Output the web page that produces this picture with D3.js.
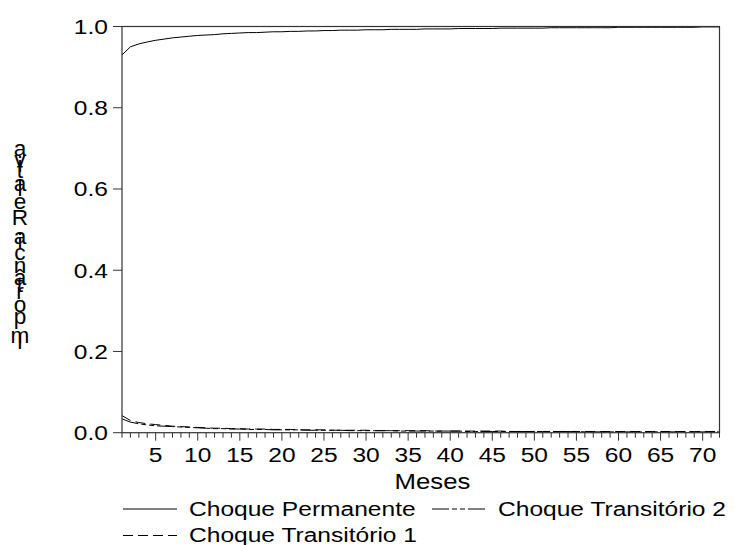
<!DOCTYPE html>
<html>
<head>
<meta charset="utf-8">
<script src="https://cdn.jsdelivr.net/npm/d3@7"></script>
<style>
  body { margin: 0; background: #fff; }
  svg text { font-family: "Liberation Sans", Arial, sans-serif; fill: #000; }
</style>
</head>
<body>
<div id="chart"></div>
<script>
// importância relativa dos choques, 72 meses
const permanente = [
  0.930, 0.950, 0.957, 0.962, 0.966, 0.969, 0.972, 0.974, 0.976, 0.978,
  0.979, 0.980, 0.982, 0.983, 0.984, 0.985, 0.985, 0.986, 0.987, 0.987,
  0.988, 0.988, 0.989, 0.989, 0.990, 0.990, 0.991, 0.991, 0.991, 0.992,
  0.992, 0.992, 0.993, 0.993, 0.993, 0.993, 0.994, 0.994, 0.994, 0.994,
  0.995, 0.995, 0.995, 0.995, 0.995, 0.996, 0.996, 0.996, 0.996, 0.996,
  0.996, 0.997, 0.997, 0.997, 0.997, 0.997, 0.997, 0.997, 0.997, 0.998,
  0.998, 0.998, 0.998, 0.998, 0.998, 0.998, 0.998, 0.998, 0.998, 0.999,
  0.999, 0.999
];
const transitorio1 = [
  0.042, 0.030, 0.025, 0.022, 0.020, 0.018, 0.016, 0.015, 0.014, 0.013,
  0.012, 0.011, 0.011, 0.010, 0.010, 0.009, 0.009, 0.009, 0.008, 0.008,
  0.008, 0.007, 0.007, 0.007, 0.007, 0.006, 0.006, 0.006, 0.006, 0.006,
  0.005, 0.005, 0.005, 0.005, 0.005, 0.005, 0.005, 0.004, 0.004, 0.004,
  0.004, 0.004, 0.004, 0.004, 0.004, 0.004, 0.003, 0.003, 0.003, 0.003,
  0.003, 0.003, 0.003, 0.003, 0.003, 0.003, 0.003, 0.003, 0.003, 0.003,
  0.003, 0.003, 0.003, 0.003, 0.003, 0.003, 0.003, 0.003, 0.003, 0.003,
  0.003, 0.003
];
const transitorio2 = [
  0.034, 0.026, 0.022, 0.019, 0.017, 0.016, 0.015, 0.014, 0.013, 0.012,
  0.011, 0.010, 0.010, 0.009, 0.009, 0.008, 0.008, 0.008, 0.007, 0.007,
  0.007, 0.007, 0.006, 0.006, 0.006, 0.006, 0.006, 0.005, 0.005, 0.005,
  0.005, 0.005, 0.005, 0.004, 0.004, 0.004, 0.004, 0.004, 0.004, 0.004,
  0.004, 0.003, 0.003, 0.003, 0.003, 0.003, 0.003, 0.003, 0.003, 0.003,
  0.003, 0.003, 0.003, 0.003, 0.003, 0.002, 0.002, 0.002, 0.002, 0.002,
  0.002, 0.002, 0.002, 0.002, 0.002, 0.002, 0.002, 0.002, 0.002, 0.002,
  0.002, 0.002
];
const meses = permanente.map((d, i) => i + 1);
const yTicks = [0, 0.2, 0.4, 0.6, 0.8, 1.0];
const seriesNames = ["Choque Permanente", "Choque Transitório 1", "Choque Transitório 2"];
const yTitle = "Importância Relativa";
const xTitle = "Meses";

const width = 734, height = 545;
const plotLeft = 122, plotRight = 719.5, plotTop = 26.5, plotBottom = 432.7;
const sx = 1.17; // texto do original esticado na horizontal
const fs = 21;
const dashT1 = "10,5", dashT2 = "17,3,5,3,5,3";

const svg = d3.select("#chart").append("svg")
    .attr("width", width)
    .attr("height", height);

const x = d3.scaleLinear().domain([1, 72]).range([plotLeft, plotRight]);
const y = d3.scaleLinear().domain([0, 1]).range([plotBottom, plotTop]);

// helper: stretched text
function stretchedText(g, str, tx, ty, anchor, size) {
    return g.append("text")
        .attr("transform", `translate(${tx},${ty}) scale(${sx},1)`)
        .attr("text-anchor", anchor)
        .style("font-size", size + "px")
        .text(str);
}

// y ticks
const yAxis = svg.append("g");
yTicks.forEach(v => {
    yAxis.append("line")
        .attr("x1", plotLeft - 9).attr("x2", plotLeft)
        .attr("y1", y(v)).attr("y2", y(v))
        .attr("stroke", "#333").attr("stroke-width", 1);
    stretchedText(yAxis, d3.format(".1f")(v), plotLeft - 14, y(v) + 7.5, "end", fs);
});

// x ticks: every month, longer every 5
const xAxis = svg.append("g");
meses.forEach(m => {
    const major = m % 5 === 0;
    xAxis.append("line")
        .attr("x1", x(m)).attr("x2", x(m))
        .attr("y1", plotBottom).attr("y2", plotBottom + (major ? 8 : 5))
        .attr("stroke", "#333").attr("stroke-width", 1);
    if (major) stretchedText(xAxis, m, x(m), plotBottom + 29.5, "middle", fs);
});

// lines
const line = d3.line().x((d, i) => x(meses[i])).y(d => y(d));
const series = [
    { values: permanente, dash: null },
    { values: transitorio1, dash: dashT1 },
    { values: transitorio2, dash: dashT2 }
];
svg.append("g").selectAll("path")
    .data(series)
    .enter()
    .append("path")
    .attr("d", d => line(d.values))
    .attr("fill", "none")
    .attr("stroke", "#000")
    .attr("stroke-width", 1)
    .attr("stroke-dasharray", d => d.dash);

// frame
svg.append("rect")
    .attr("x", plotLeft).attr("y", plotTop)
    .attr("width", plotRight - plotLeft).attr("height", plotBottom - plotTop)
    .attr("fill", "none")
    .attr("stroke", "#333")
    .attr("stroke-width", 1.2);

// x title
stretchedText(svg, xTitle, 432.5, 489, "middle", 22);

// y title: upright glyphs stacked bottom to top, baseline at start of each advance
const yfs = 22.6;
const chars = yTitle.split("");
const meas = svg.append("text").style("font-size", yfs + "px");
const adv = chars.map(c => {
    meas.text(c === " " ? "\u00a0" : c);
    return meas.node().getComputedTextLength();
});
meas.remove();
let base = 143.3 + d3.sum(adv);
chars.forEach((c, i) => {
    if (c !== " ") {
        svg.append("text")
            .attr("x", 20)
            .attr("y", base)
            .attr("text-anchor", "middle")
            .style("font-size", yfs + "px")
            .text(c);
    }
    base -= adv[i];
});

// legend
const legendItems = [
    { name: seriesNames[0], dash: null, lx: 123, ly: 509 },
    { name: seriesNames[2], dash: dashT2, lx: 432, ly: 509 },
    { name: seriesNames[1], dash: dashT1, lx: 123, ly: 535.5 }
];
const legend = svg.append("g");
legendItems.forEach(d => {
    legend.append("line")
        .attr("x1", d.lx).attr("x2", d.lx + 54)
        .attr("y1", d.ly).attr("y2", d.ly)
        .attr("stroke", "#000").attr("stroke-width", 1)
        .attr("stroke-dasharray", d.dash);
    stretchedText(legend, d.name, d.lx + 66, d.ly + 6.5, "start", 21);
});
</script>
</body>
</html>
